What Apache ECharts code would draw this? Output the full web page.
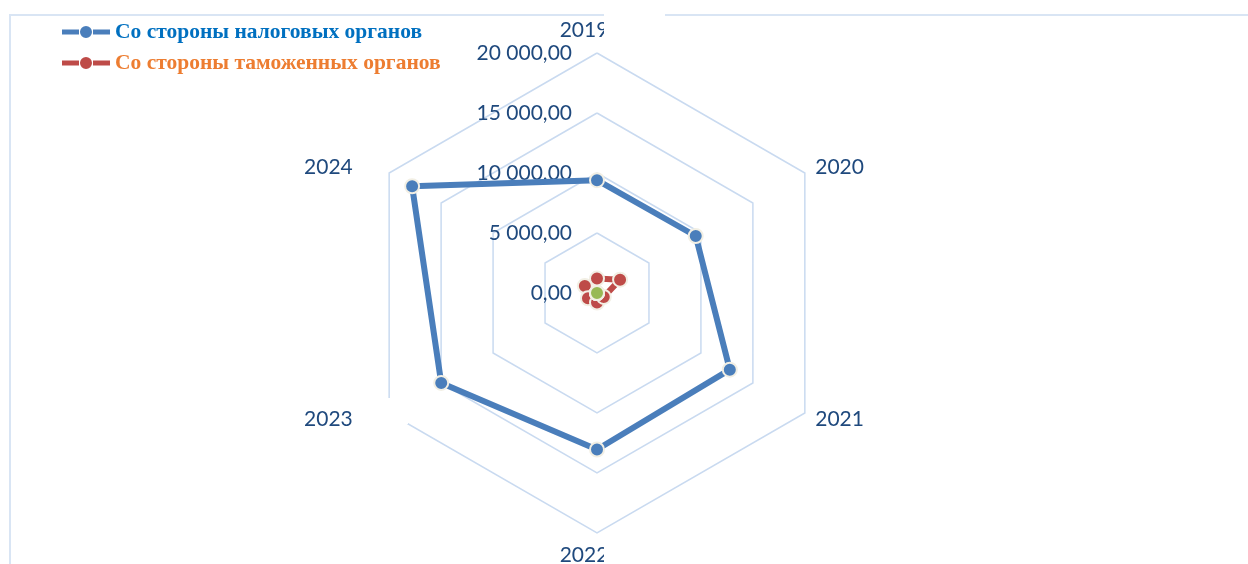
<!DOCTYPE html>
<html>
<head>
<meta charset="utf-8">
<script src="https://cdn.jsdelivr.net/npm/echarts@6/dist/echarts.min.js"></script>
<style>
  html, body { margin: 0; padding: 0; background: #fff; }
  #main { width: 1248px; height: 564px; }
</style>
</head>
<body>
<div id="main"></div>
<script>
// данные
var years = ['2019', '2020', '2021', '2022', '2023', '2024']
var taxValues = [9400, 9500, 12780, 13040, 14990, 17790]
var customsValues = [1200, 2220, 650, 800, 870, 1170]
var otherValues = [0, 0, 0, 0, 0, 0]
var axisMax = 20000

var labelColor = '#1f497d'

function fmt (v) {
  return String(v).replace(/\B(?=(\d{3})+(?!\d))/g, ' ') + ',00'
}

// ECharts идёт против часовой стрелки — переставляем, чтобы годы шли по часовой
var order = [0, 5, 4, 3, 2, 1]
function reorder (arr) {
  return order.map(function (i) { return arr[i] })
}

var indicators = reorder(years).map(function (y, i) {
  var ind = { name: y, max: axisMax, min: 0 }
  if (i === 0) {
    ind.axisLabel = { show: true }
  }
  return ind
})

var myChart = echarts.init(document.getElementById('main'))

var markerBorder = { borderColor: '#f2efe4', borderWidth: 2 }
var legendIcon = 'path://M0,4.5h17v5h-17z M31,4.5h17v5h-17z M24,1a6,6 0 1,0 0.01,0z'

var option = {
  backgroundColor: '#fff',
  animation: false,
  legend: {
    orient: 'vertical',
    left: 57,
    top: 16,
    itemWidth: 48,
    itemHeight: 14,
    itemGap: 9,
    icon: legendIcon,
    itemStyle: { borderWidth: 0 },
    textStyle: {
      fontFamily: 'Liberation Serif',
      fontWeight: 'bold',
      fontSize: 21.5
    },
    data: [
      { name: 'Со стороны налоговых органов', textStyle: { color: '#0070c0' } },
      { name: 'Со стороны таможенных органов', textStyle: { color: '#ed7d31' } }
    ]
  },
  radar: {
    center: [597, 293],
    radius: 240,
    splitNumber: 4,
    startAngle: 90,
    shape: 'polygon',
    nameGap: 12,
    axisName: {
      color: labelColor,
      fontFamily: 'Lato',
      fontSize: 21,
      padding: [0, 26, 0, 0]
    },
    axisLine: { show: false },
    axisTick: { show: false },
    axisLabel: {
      show: false,
      color: labelColor,
      fontFamily: 'Lato',
      fontSize: 21,
      margin: 25,
      formatter: fmt
    },
    splitLine: { lineStyle: { color: '#c9daf0', width: 1.5 } },
    splitArea: { show: false },
    indicator: indicators
  },
  graphic: [
    // рамка
    {
      type: 'rect',
      z: 100,
      shape: { x: 10, y: 15, width: 1400, height: 700 },
      style: { fill: null, stroke: '#d9e5f4', lineWidth: 2 }
    },
    { type: 'rect', z: 101, shape: { x: 604, y: 0, width: 61, height: 45 }, style: { fill: '#fff' } },
    { type: 'rect', z: 101, shape: { x: 604, y: 535, width: 40, height: 40 }, style: { fill: '#fff' } },
    { type: 'rect', z: 101, shape: { x: 380, y: 398, width: 28, height: 26 }, style: { fill: '#fff' } }
  ],
  series: [
    {
      type: 'radar',
      z: 3,
      symbol: 'circle',
      symbolSize: 14,
      lineStyle: { color: '#4a7ebb', width: 6 },
      itemStyle: Object.assign({ color: '#4a7ebb' }, markerBorder),
      data: [{ name: 'Со стороны налоговых органов', value: reorder(taxValues) }]
    },
    {
      type: 'radar',
      z: 4,
      symbol: 'circle',
      symbolSize: 14,
      lineStyle: { color: '#be4b48', width: 6 },
      itemStyle: Object.assign({ color: '#be4b48' }, markerBorder),
      data: [{ name: 'Со стороны таможенных органов', value: reorder(customsValues) }]
    },
    {
      type: 'radar',
      z: 5,
      symbol: 'circle',
      symbolSize: 14,
      lineStyle: { color: '#98b954', width: 6 },
      itemStyle: Object.assign({ color: '#98b954' }, markerBorder),
      data: [{ name: 'Прочие', value: otherValues }]
    }
  ]
}

myChart.setOption(option)
</script>
</body>
</html>
